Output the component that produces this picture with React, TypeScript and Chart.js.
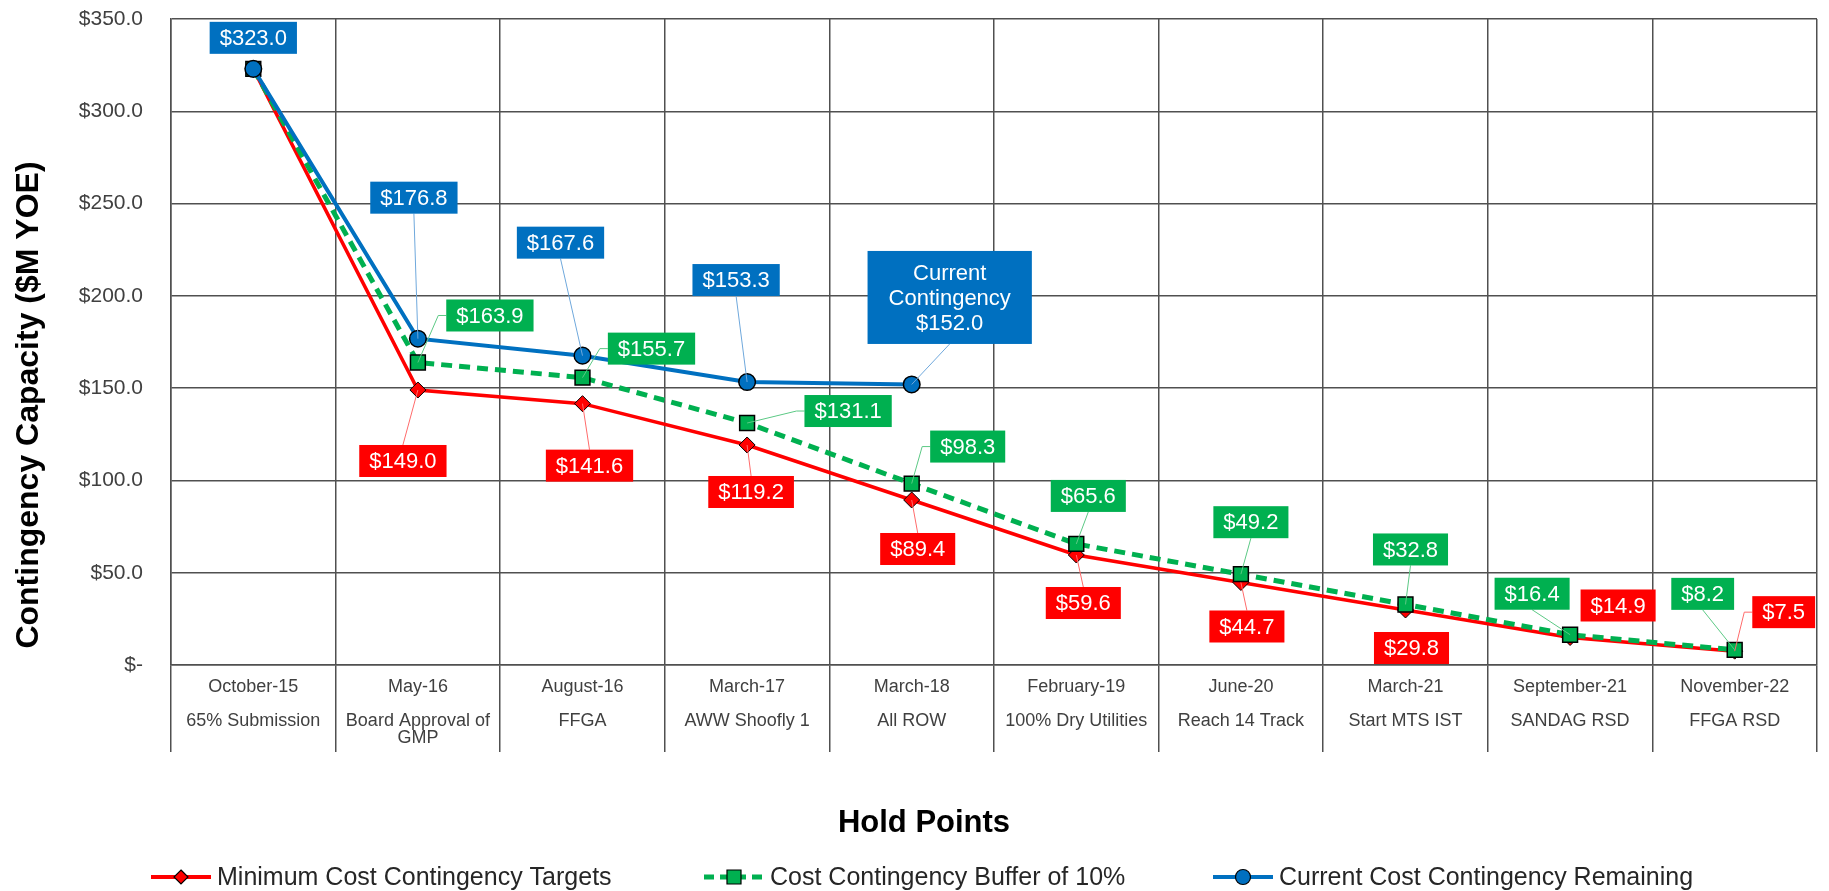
import { useEffect, useRef } from "react";
import { Chart, registerables } from "chart.js";

Chart.register(...registerables);

const FONT = '"Liberation Sans", Arial, sans-serif';

// ---- data ----
const dates = ["October-15", "May-16", "August-16", "March-17", "March-18", "February-19", "June-20", "March-21", "September-21", "November-22"];
const holdPoints = [["65% Submission"], ["Board Approval of", "GMP"], ["FFGA"], ["AWW Shoofly 1"], ["All ROW"], ["100% Dry Utilities"], ["Reach 14 Track"], ["Start MTS IST"], ["SANDAG RSD"], ["FFGA RSD"]];
const minTargets = [323.0, 149.0, 141.6, 119.2, 89.4, 59.6, 44.7, 29.8, 14.9, 7.5];
const buffer10 = [323.0, 163.9, 155.7, 131.1, 98.3, 65.6, 49.2, 32.8, 16.4, 8.2];
const remaining = [323.0, 176.8, 167.6, 153.3, 152.0, null, null, null, null, null];
const yTickLabels = ["$-", "$50.0", "$100.0", "$150.0", "$200.0", "$250.0", "$300.0", "$350.0"];
const seriesNames = ["Minimum Cost Contingency Targets", "Cost Contingency Buffer of 10%", "Current Cost Contingency Remaining"];
const currentLabelPrefix = ["Current", "Contingency"];

// ---- label layout (offsets of label box centre from its point) ----
const redLabelOffsets = [null, [-15, 71], [7, 62], [4, 47], [6, 49], [7, 48], [6, 44], [6, 38], [48, -32], [49, -39]];
const greenLabelOffsets = [null, [72, -47], [69, -29], [101, -12], [56, -37], [12, -48], [10, -52], [5, -55], [-38, -41], [-32, -56]];
const blueLabelOffsets = [[0, -31], [-4, -141], [-22, -113], [-11, -102], [38, -87]];

const RED = "#FF0000";
const GREEN = "#00B050";
const BLUE = "#0070C0";
const GRID = "#505050";

function fmt(v: number) {
  return "$" + v.toFixed(1);
}

function drawLabel(ctx: CanvasRenderingContext2D, px: number, py: number, dx: number, dy: number, lines: string[], fill: string, leader: string) {
  ctx.save();
  ctx.font = `22px ${FONT}`;
  const lh = 25;
  const padX = lines.length > 1 ? 21 : 10;
  const w = Math.max(...lines.map((l) => ctx.measureText(l).width)) + padX * 2;
  const h = lines.length === 1 ? 32 : lines.length * lh + 18;
  const cx = px + dx;
  const cy = py + dy;
  const l = cx - w / 2, r = cx + w / 2, t = cy - h / 2, b = cy + h / 2;
  const gapX = px < l ? l - px : px > r ? px - r : 0;
  const gapY = py > b ? py - b : py < t ? t - py : 0;
  if (Math.hypot(gapX, gapY) > 22) {
    ctx.strokeStyle = leader;
    ctx.lineWidth = 1;
    ctx.beginPath();
    if (gapX > 12) {
      const sx = px < l ? l : r;
      const stub = px < l ? sx - 8 : sx + 8;
      ctx.moveTo(sx, cy);
      ctx.lineTo(stub, cy);
      ctx.lineTo(px, py);
    } else if (py > b) {
      ctx.moveTo(cx, b);
      ctx.lineTo(px, py);
    } else {
      ctx.moveTo(cx, t);
      ctx.lineTo(px, py);
    }
    ctx.stroke();
  }
  ctx.fillStyle = fill;
  ctx.fillRect(l, t, w, h);
  ctx.fillStyle = "#ffffff";
  ctx.textAlign = "center";
  ctx.textBaseline = "middle";
  lines.forEach((ln, k) => {
    ctx.fillText(ln, cx, cy + (k - (lines.length - 1) / 2) * lh + 1);
  });
  ctx.restore();
}

function drawLegendIcon(ctx: CanvasRenderingContext2D, x: number, y: number, kind: number) {
  ctx.save();
  const colors = [RED, GREEN, BLUE];
  const w = 60;
  ctx.strokeStyle = colors[kind];
  ctx.lineWidth = kind === 1 ? 5 : 4;
  if (kind === 1) ctx.setLineDash([10, 6]);
  ctx.beginPath();
  ctx.moveTo(x, y);
  ctx.lineTo(x + w, y);
  ctx.stroke();
  ctx.setLineDash([]);
  const mx = x + w / 2;
  ctx.fillStyle = colors[kind];
  ctx.strokeStyle = "#000";
  ctx.lineWidth = 1.2;
  ctx.beginPath();
  if (kind === 0) {
    ctx.moveTo(mx, y - 7);
    ctx.lineTo(mx + 7, y);
    ctx.lineTo(mx, y + 7);
    ctx.lineTo(mx - 7, y);
    ctx.closePath();
  } else if (kind === 1) {
    ctx.rect(mx - 7, y - 7, 14, 14);
  } else {
    ctx.arc(mx, y, 7.5, 0, Math.PI * 2);
  }
  ctx.fill();
  ctx.stroke();
  ctx.restore();
}

const decorPlugin = {
  id: "decor",
  afterDatasetsDraw(chart: any) {
    const ctx: CanvasRenderingContext2D = chart.ctx;
    const sets: [number, any[], (number | null)[], string, string][] = [
      [0, redLabelOffsets, minTargets, RED, "#ff6b6b"],
      [1, greenLabelOffsets, buffer10, GREEN, "#5cc985"],
      [2, blueLabelOffsets, remaining, BLUE, "#6fa8dc"],
    ];
    for (const [ds, offs, vals, fill, leader] of sets) {
      const meta = chart.getDatasetMeta(ds);
      vals.forEach((v, i) => {
        const off = offs[i];
        if (v == null || !off) return;
        const p = meta.data[i];
        let lines = [fmt(v)];
        if (ds === 2 && i === 4) lines = [...currentLabelPrefix, fmt(v)];
        drawLabel(ctx, p.x, p.y, off[0], off[1], lines, fill, leader);
      });
    }
  },
  afterDraw(chart: any) {
    const ctx: CanvasRenderingContext2D = chart.ctx;
    ctx.save();
    ctx.fillStyle = "#000";
    ctx.font = `bold 32px ${FONT}`;
    ctx.textAlign = "center";
    ctx.textBaseline = "middle";
    ctx.translate(29, 405);
    ctx.rotate(-Math.PI / 2);
    ctx.fillText("Contingency Capacity ($M YOE)", 0, 0);
    ctx.restore();

    ctx.save();
    ctx.fillStyle = "#000";
    ctx.font = `bold 31px ${FONT}`;
    ctx.textAlign = "center";
    ctx.textBaseline = "middle";
    ctx.fillText("Hold Points", 924, 823);
    ctx.restore();

    const starts = [151, 704, 1213];
    ctx.save();
    ctx.font = `25px ${FONT}`;
    ctx.fillStyle = "#262626";
    ctx.textBaseline = "middle";
    ctx.textAlign = "left";
    seriesNames.forEach((name, k) => {
      drawLegendIcon(ctx, starts[k], 877, k);
      ctx.fillText(name, starts[k] + 66, 878);
    });
    ctx.restore();
  },
};

export default function App() {
  const ref = useRef<HTMLCanvasElement | null>(null);
  useEffect(() => {
    document.body.style.margin = "0";
    document.body.style.overflow = "hidden";
    const chart = new Chart(ref.current as HTMLCanvasElement, {
      type: "line",
      data: {
        labels: dates,
        datasets: [
          {
            label: seriesNames[0],
            data: minTargets,
            borderColor: RED,
            backgroundColor: RED,
            borderWidth: 3.5,
            pointStyle: "rectRot",
            pointRadius: 8,
            pointBorderColor: "#000",
            pointBorderWidth: 1,
            tension: 0,
            order: 3,
          },
          {
            label: seriesNames[1],
            data: buffer10,
            borderColor: GREEN,
            backgroundColor: GREEN,
            borderWidth: 5,
            borderDash: [11, 7],
            pointStyle: "rect",
            pointRadius: 10.5,
            pointBorderColor: "#000",
            pointBorderWidth: 1.5,
            tension: 0,
            order: 2,
          },
          {
            label: seriesNames[2],
            data: remaining,
            borderColor: BLUE,
            backgroundColor: BLUE,
            borderWidth: 4,
            pointStyle: "circle",
            pointRadius: 8.3,
            pointBorderColor: "#000",
            pointBorderWidth: 1.5,
            tension: 0,
            spanGaps: false,
            order: 1,
          },
        ],
      },
      options: {
        responsive: false,
        animation: false,
        events: [],
        layout: { padding: { top: 0, right: 7, left: 0, bottom: 0 } },
        plugins: {
          legend: { display: false },
          tooltip: { enabled: false },
          title: { display: false },
        },
        scales: {
          x: {
            type: "category",
            offset: true,
            grid: {
              offset: true,
              color: GRID,
              lineWidth: 1.5,
              drawTicks: true,
              tickLength: 87,
              tickColor: GRID,
              tickWidth: 1.5,
            },
            border: { display: true, color: GRID, width: 1.5 },
            ticks: {
              padding: -73.5,
              autoSkip: false,
              maxRotation: 0,
              minRotation: 0,
              color: "#404040",
              font: { family: FONT, size: 18, lineHeight: "17px" },
              callback: (_v: any, i: number) => [dates[i], "", ...holdPoints[i]],
            },
            afterFit: (s: any) => {
              s.height = 226;
            },
          },
          y: {
            min: 0,
            max: 350,
            grid: { color: GRID, lineWidth: 1.5, drawTicks: true, tickLength: 28, tickColor: "rgba(0,0,0,0)" },
            border: { display: true, color: GRID, width: 1.5 },
            ticks: {
              stepSize: 50,
              padding: 0,
              color: "#404040",
              font: { family: FONT, size: 21, lineHeight: "38px" },
              callback: (_v: any, i: number) => yTickLabels[i],
            },
            afterFit: (s: any) => {
              s.width = 171;
            },
          },
        },
      },
      plugins: [decorPlugin],
    } as any);
    return () => chart.destroy();
  }, []);
  return (
    <div style={{ width: 1829, height: 891 }}>
      <canvas ref={ref} width={1829} height={891} style={{ display: "block" }} />
    </div>
  );
}
